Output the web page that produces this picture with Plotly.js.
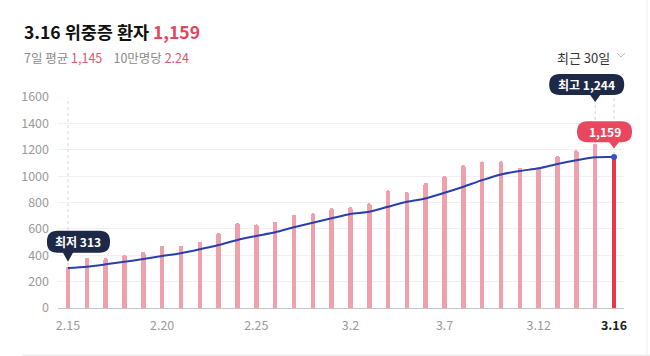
<!DOCTYPE html>
<html>
<head>
<meta charset="utf-8">
<script src="https://cdn.plot.ly/plotly-3.0.1.min.js"></script>
<style>
html,body{margin:0;padding:0;background:#fff;}
#chart{width:650px;height:356px;}
</style>
</head>
<body>
<div id="chart"></div>
<script>
// ---- data ----
var dates = ["2.15","2.16","2.17","2.18","2.19","2.20","2.21","2.22","2.23","2.24","2.25","2.26","2.27","2.28",
             "3.1","3.2","3.3","3.4","3.5","3.6","3.7","3.8","3.9","3.10","3.11","3.12","3.13","3.14","3.15","3.16"];
var patients = [313,379,378,402,427,470,470,503,571,647,634,654,707,718,
                758,765,794,892,879,950,1003,1084,1112,1113,1064,1059,1155,1196,1244,1159];
var avg7 = [303,313,331,351,371,394,415,445,478,516,546,574,612,647,
            680,713,730,768,806,831,874,920,970,1013,1039,1059,1092,1120,1143,1145];
var per100k = "2.24";
var tickIdx = [0,5,10,15,20,25,29];
var yTicks = [0,200,400,600,800,1000,1200,1400,1600];

// ---- layout helpers (pixel positions only) ----
var L = 58, R = 624, T = 97, B = 308;
function px(x){ return (x - L) / (R - L); }
function py(y){ return (B - y) / (B - T); }

var idx = dates.map(function(d,i){ return i; });
var last = dates.length - 1;
var xRange = [-0.53, last + 0.53];
var yRange = [0, 1600];
// data value -> paper fraction, using the same axis ranges as the layout
function xp(i){ return (i - xRange[0]) / (xRange[1] - xRange[0]); }
function yp(v){ return (v - yRange[0]) / (yRange[1] - yRange[0]); }

var minI = patients.indexOf(Math.min.apply(null, patients));
var maxI = patients.indexOf(Math.max.apply(null, patients));

var pink = '#eea0ab', red = '#e6374f', navy = '#1e2948', blue = '#2a3eae';

var barColors = patients.map(function(v,i){ return i === last ? red : pink; });

var bars = {
  type: 'bar', x: idx, y: patients, width: 0.24,
  marker: {color: barColors, cornerradius: 2},
  hoverinfo: 'skip'
};
var line = {
  type: 'scatter', mode: 'lines', x: idx, y: avg7,
  line: {color: blue, width: 2, shape: 'spline', smoothing: 0.8},
  hoverinfo: 'skip'
};
var dot = {
  type: 'scatter', mode: 'markers', x: [last], y: [avg7[last]],
  marker: {color: '#3552c8', size: 6},
  hoverinfo: 'skip', cliponaxis: false
};

function bubblePath(x0, x1, yb, yt, r, tip, pw){
  return 'M' + (x0+r) + ',' + yt +
    ' L' + (x1-r) + ',' + yt +
    ' Q' + x1 + ',' + yt + ' ' + x1 + ',' + (yt-r) +
    ' L' + x1 + ',' + (yb+r) +
    ' Q' + x1 + ',' + yb + ' ' + (x1-r) + ',' + yb +
    ' L' + pw + ',' + yb +
    ' L0,' + tip +
    ' L' + (-pw) + ',' + yb +
    ' L' + (x0+r) + ',' + yb +
    ' Q' + x0 + ',' + yb + ' ' + x0 + ',' + (yb+r) +
    ' L' + x0 + ',' + (yt-r) +
    ' Q' + x0 + ',' + yt + ' ' + (x0+r) + ',' + yt + ' Z';
}
function bubble(xi, yv, x0, x1, yb, yt, tip, color){
  return {type:'path', xref:'paper', yref:'paper', xsizemode:'pixel', ysizemode:'pixel',
    xanchor: xp(xi), yanchor: yp(yv), path: bubblePath(x0,x1,yb,yt,10.5,tip,5),
    fillcolor: color, line:{width:0}, layer:'above'};
}

var shapes = [
  {type:'line', xref:'x', yref:'y', x0:0, x1:0, y0:0, y1:1600, layer:'between',
   line:{color:'#d8d8d8', width:1, dash:'dot'}},
  {type:'line', xref:'x', yref:'y', x0:maxI, x1:maxI, y0:patients[maxI], y1:1600, layer:'between',
   line:{color:'#cfcfcf', width:1, dash:'dot'}},
  {type:'line', xref:'x', yref:'y', x0:last, x1:last, y0:patients[last], y1:1600, layer:'between',
   line:{color:'#cfcfcf', width:1, dash:'dot'}},
  bubble(minI, patients[minI], -21, 42, 14, 36, 5, navy),
  bubble(maxI, patients[maxI], -46, 29, 49, 70, 42, navy),
  bubble(last, patients[last], -37, 18, 13, 34, 7, '#e8475f'),
  // chevron
  {type:'path', xref:'paper', yref:'paper',
   path:'M'+px(617)+','+py(53)+' L'+px(621)+','+py(57)+' L'+px(625)+','+py(53),
   line:{color:'#bbbbbb', width:1}},
  // bottom rule and right card edge
  {type:'line', xref:'paper', yref:'paper', x0:px(22), x1:px(650), y0:py(355), y1:py(355),
   line:{color:'#e6e6e6', width:1}},
  {type:'line', xref:'paper', yref:'paper', x0:px(647), x1:px(647), y0:py(0), y1:py(356),
   line:{color:'#eeeeee', width:1}}
];

var fmt = function(v){ return v.toLocaleString('en-US'); };

var annotations = [
  {xref:'paper', yref:'paper', x:px(22), y:py(31), xanchor:'left', yanchor:'middle', showarrow:false,
   text:'<b>' + dates[last] + ' 위중증 환자</b> <span style="color:#e0475c"><b>' + fmt(patients[last]) + '</b></span>',
   font:{size:17.5, color:'#111111'}},
  {xref:'paper', yref:'paper', x:px(22), y:py(57), xanchor:'left', yanchor:'middle', showarrow:false,
   text:'7일 평균 <span style="color:#e0566b">' + fmt(avg7[last]) + '</span>    10만명당 <span style="color:#e0566b">' + per100k + '</span>',
   font:{size:12.5, color:'#8a8a8a'}},
  {xref:'paper', yref:'paper', x:px(612), y:py(57), xanchor:'right', yanchor:'middle', showarrow:false,
   text:'최근 30일', font:{size:13, color:'#333333'}},
  {xref:'paper', yref:'paper', x:xp(minI), y:yp(patients[minI]), xshift:10.5, yshift:25, showarrow:false,
   xanchor:'center', yanchor:'middle', text:'<b>최저 ' + fmt(patients[minI]) + '</b>',
   font:{size:12, color:'#ffffff'}},
  {xref:'paper', yref:'paper', x:xp(maxI), y:yp(patients[maxI]), xshift:-8.5, yshift:59.5, showarrow:false,
   xanchor:'center', yanchor:'middle', text:'<b>최고 ' + fmt(patients[maxI]) + '</b>',
   font:{size:12, color:'#ffffff'}},
  {xref:'paper', yref:'paper', x:xp(last), y:yp(patients[last]), xshift:-9.5, yshift:23.5, showarrow:false,
   xanchor:'center', yanchor:'middle', text:'<b>' + fmt(patients[last]) + '</b>',
   font:{size:12, color:'#ffffff'}}
];

var tickText = tickIdx.map(function(i){
  return i === last ? '<b><span style="color:#222222">' + dates[i] + '</span></b>' : dates[i];
});

var layout = {
  width: 650, height: 356,
  margin: {l: L, r: 650 - R, t: T, b: 356 - B, pad: 0},
  paper_bgcolor: '#ffffff', plot_bgcolor: '#ffffff',
  font: {family: '"Noto Sans CJK KR", "Noto Sans", sans-serif', color: '#999999', size: 12},
  showlegend: false,
  bargap: 0,
  xaxis: {
    range: xRange, tickvals: tickIdx, ticktext: tickText,
    showgrid: false, zeroline: false, showline: true, linecolor: '#c4c4c4', linewidth: 1,
    ticks: '', ticklabelstandoff: 6, tickfont: {size: 12.5, color: '#9a9a9a'}, fixedrange: true
  },
  yaxis: {
    range: yRange, tickvals: yTicks, showgrid: true, gridcolor: '#f0f0f0', gridwidth: 1,
    zeroline: false, showline: false, ticks: '', ticklabelstandoff: 8,
    tickfont: {size: 12.5, color: '#9a9a9a'}, fixedrange: true
  },
  shapes: shapes,
  annotations: annotations
};

Plotly.newPlot('chart', [bars, line, dot], layout, {displayModeBar: false, staticPlot: true});
</script>
</body>
</html>
